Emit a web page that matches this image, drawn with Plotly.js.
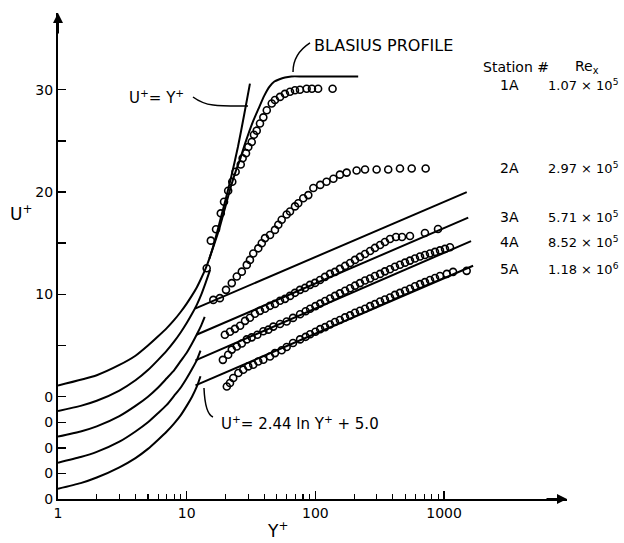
<!DOCTYPE html>
<html>
<head>
<meta charset="utf-8">
<script src="https://cdn.plot.ly/plotly-3.0.1.min.js"></script>
<style>html,body{margin:0;padding:0;background:#fff;}#chart{width:624px;height:543px;}</style>
</head>
<body>
<div id="chart"></div>
<script>
// ---------------- data ----------------
const stations = ['1A', '2A', '3A', '4A', '5A'];
const reynolds = ['1.07 × 10<sup>5</sup>', '2.97 × 10<sup>5</sup>', '5.71 × 10<sup>5</sup>', '8.52 × 10<sup>5</sup>', '1.18 × 10<sup>6</sup>'];

// measured points (open circles)
const yPlus1A = [14.3,15.4,16.9,18.4,19.5,21.0,22.6,24.0,26.3,27.2,28.9,30.1,32.0,33.3,35.0,37.1,39.4,41.9,45.8,48.5,53.1,58.0,63.5,69.4,75.9,85.5,94,105,136];
const uPlus1A = [12.56,15.25,16.36,17.92,19.05,20.13,21.0,21.98,22.7,23.3,23.8,24.4,24.9,25.6,26.0,26.7,27.3,28.0,28.65,29.0,29.3,29.6,29.8,29.95,30.0,30.1,30.1,30.1,30.1];

const yPlus2A = [16.1,18.1,20.2,22.4,24.5,26.8,29.3,31.0,32.9,36.0,38.3,40.6,44.4,48.5,51.5,54.7,59.8,63.5,69.4,73.6,80.5,88.1,96.4,109,122,138,155,175,209,243,299,368,454,560,719];
const uPlus2A = [9.46,9.63,10.44,11.1,11.74,12.22,12.88,13.37,14.0,14.5,15.0,15.5,15.8,16.3,16.8,17.3,17.8,18.1,18.6,18.9,19.4,19.7,20.4,20.7,21.0,21.3,21.7,21.9,22.1,22.2,22.2,22.2,22.3,22.3,22.3];

const yPlus3A = [19.8,21.7,23.7,26.0,28.4,31.0,33.9,37.1,40.6,44.4,48.5,53.1,58.0,63.5,69.4,75.9,83.0,90.8,99.3,108.6,118.7,129.9,142,155,170,186,203,222,243,266,290,318,347,380,423,471,543,710,897];
const uPlus3A = [6.05,6.34,6.63,6.93,7.41,7.71,8.10,8.39,8.59,8.88,9.07,9.37,9.56,9.85,10.15,10.44,10.63,10.93,11.12,11.41,11.71,12.0,12.2,12.49,12.78,13.07,13.37,13.66,13.95,14.24,14.54,14.83,15.12,15.41,15.61,15.61,15.71,16.0,16.39];

const yPlus4A = [19.1,21.0,22.4,24.5,26.8,29.3,32.0,35.4,39.4,43.1,47.1,53.1,59.8,67,76,84,91,100,109,119,130,142,155,170,186,203,222,243,266,290,318,347,380,415,454,497,543,594,650,710,777,850,929,1016,1111];
const uPlus4A = [3.6,4.1,4.6,4.9,5.2,5.6,5.8,6.05,6.4,6.55,6.85,7.1,7.35,7.7,8.05,8.35,8.6,8.85,9.1,9.35,9.6,9.85,10.1,10.35,10.6,10.85,11.1,11.35,11.55,11.8,12.0,12.25,12.45,12.7,12.9,13.1,13.3,13.5,13.7,13.85,14.0,14.15,14.3,14.45,14.6];

const yPlus5A = [20.5,21.7,23.0,25.2,27.5,30.1,32.9,36.0,39.4,44.4,48.5,54.7,59.8,67,76,84,91,100,109,119,130,142,155,170,186,203,222,243,266,290,318,347,380,415,454,497,543,594,650,710,777,850,929,1050,1174,1498];
const uPlus5A = [1.0,1.34,1.82,2.31,2.63,2.96,3.12,3.44,3.61,3.93,4.26,4.54,4.85,5.25,5.6,5.85,6.1,6.35,6.6,6.8,7.05,7.3,7.5,7.75,7.95,8.2,8.4,8.6,8.85,9.05,9.3,9.5,9.7,9.95,10.15,10.35,10.55,10.8,11.0,11.2,11.4,11.6,11.8,12.0,12.2,12.3];

// reference curves
const subYPlus1A = [1,2,3,4,5,6,7,8,9,10,11,12,13,14,15,16,17,18,20,22,25,28,31];
const subUPlus1A = [1.1,2.1,3.1,4.0,5.0,5.9,6.7,7.5,8.3,9.1,9.9,10.7,11.6,12.5,13.5,14.6,15.8,17.0,19.2,21.3,24.4,27.6,30.6];
const subYPlus2A = [1,1.5,2,3,4,5,6,7,8,9,10,11,12,13,14,15.2];
const subUPlus2A = [-1.4,-0.9,-0.4,0.6,1.6,2.6,3.6,4.5,5.4,6.3,7.2,8.1,9.0,10.0,11.1,12.4];
const subYPlus3A = [1,1.5,2,3,4,5,6,7,8,9,10,11,12,13,13.8];
const subUPlus3A = [-3.9,-3.4,-2.9,-1.9,-0.9,0.0,0.9,1.8,2.6,3.5,4.3,5.2,6.1,7.0,7.8];
const subYPlus4A = [1,1.5,2,3,4,5,6,7,8,9,10,11,12,12.8];
const subUPlus4A = [-6.45,-5.9,-5.4,-4.4,-3.4,-2.5,-1.6,-0.8,0.1,0.9,1.8,2.7,3.6,4.5];
const subYPlus5A = [1,1.5,2,3,4,5,6,7,8,9,10,11,12,12.8];
const subUPlus5A = [-9.0,-8.45,-7.9,-6.9,-6.0,-5.1,-4.2,-3.4,-2.6,-1.8,-0.9,0.0,1.0,2.0];

const blasiusYPlus = [15,18,20,22,24,26,28,30,33,36,40,44,48,52,58,65,80,120,215];
const blasiusUPlus = [13.5,16.5,18.6,20.5,22.0,23.2,24.5,25.6,27.0,28.1,29.4,30.3,30.8,31.0,31.2,31.3,31.3,31.3,31.3];

// log-law lines (end points)
const logYPlus2A = [11.6, 1500]; const logUPlus2A = [8.6, 20.0];
const logYPlus3A = [11.9, 1540]; const logUPlus3A = [6.05, 17.5];
const logYPlus4A = [11.7, 1620]; const logUPlus4A = [3.55, 15.2];
const logYPlus5A = [11.7, 1680]; const logUPlus5A = [1.1, 12.8];

// axis ticks
const xMajorVals = [1, 10, 100, 1000];
const xMajorText = ['1', '10', '100', '1000'];
const xMinorVals = [2,3,4,5,6,7,8,9,20,30,40,50,60,70,80,90,200,300,400,500,600,700,800,900];
const yTickVals = [-10, -7.5, -5, -2.5, 0, 5, 10, 15, 20, 25, 30];
const yTickText = ['0', '0', '0', '0', '0', '', '10', '', '20', '', '30'];

// ---------------- drawing ----------------
const FONT = 'DejaVu Sans, Liberation Sans, Arial, sans-serif';
const INK = '#000';

function curve(x, y, shape) {
  return {x: x, y: y, type: 'scatter', mode: 'lines', hoverinfo: 'skip',
          line: {color: INK, width: 2, shape: shape || 'spline', smoothing: 0.6}};
}
function points(x, y) {
  return {x: x, y: y, type: 'scatter', mode: 'markers', hoverinfo: 'skip',
          marker: {symbol: 'circle-open', size: 7, color: INK, line: {color: INK, width: 1.6}}};
}

const traces = [
  curve(subYPlus1A, subUPlus1A), curve(subYPlus2A, subUPlus2A), curve(subYPlus3A, subUPlus3A),
  curve(subYPlus4A, subUPlus4A), curve(subYPlus5A, subUPlus5A),
  curve(blasiusYPlus, blasiusUPlus),
  curve(logYPlus2A, logUPlus2A, 'linear'), curve(logYPlus3A, logUPlus3A, 'linear'),
  curve(logYPlus4A, logUPlus4A, 'linear'), curve(logYPlus5A, logUPlus5A, 'linear'),
  points(yPlus1A, uPlus1A), points(yPlus2A, uPlus2A), points(yPlus3A, uPlus3A),
  points(yPlus4A, uPlus4A), points(yPlus5A, uPlus5A)
];

function txt(text, x, y, size, xanchor) {
  return {text: text, x: x, y: y, xref: 'paper', yref: 'paper', showarrow: false,
          xanchor: xanchor || 'center', yanchor: 'middle',
          font: {family: FONT, size: size, color: INK}};
}

const rowY = [0.8519, 0.6811, 0.5802, 0.5288, 0.4733];
const annotations = [
  txt('BLASIUS PROFILE', 0.499, 0.934, 16, 'left'),
  txt('U<sup>+</sup>= Y<sup>+</sup>', 0.2515, 0.827, 15, 'right'),
  txt('U<sup>+</sup>= 2.44 ln Y<sup>+</sup> + 5.0', 0.3163, 0.1564, 15, 'left'),
  txt('Station #', 0.831, 0.8889, 14, 'left'),
  txt('Re<sub>x</sub>', 1.0118, 0.8889, 14, 'left'),
  txt('U<sup>+</sup>', -0.0727, 0.5885, 17, 'center'),
  txt('Y<sup>+</sup>', 0.4322, -0.0638, 17, 'center'),
  {x: 0, y: 1, xref: 'paper', yref: 'paper', ax: 0, ay: 22, text: '', showarrow: true,
   arrowhead: 2, arrowsize: 1, arrowwidth: 2, arrowcolor: INK},
  {x: 1, y: 0, xref: 'paper', yref: 'paper', ax: -22, ay: 0, text: '', showarrow: true,
   arrowhead: 2, arrowsize: 1, arrowwidth: 2, arrowcolor: INK}
];
stations.forEach(function(s, i) {
  annotations.push(txt(s, 0.888, rowY[i], 14, 'center'));
  annotations.push(txt(reynolds[i], 0.9587, rowY[i], 13, 'left'));
});

const leader = {color: INK, width: 1.5};
const shapes = [
  {type: 'path', xref: 'paper', yref: 'paper', path: 'M0.4951,0.9383 Q0.4617,0.9156 0.4617,0.8786', line: leader},
  {type: 'path', xref: 'paper', yref: 'paper', path: 'M0.2652,0.8272 C0.29,0.808 0.31,0.808 0.3733,0.8086', line: leader},
  {type: 'path', xref: 'paper', yref: 'paper', path: 'M0.2868,0.2284 Q0.289,0.175 0.3045,0.1687', line: leader}
];

const layout = {
  width: 624, height: 543,
  margin: {l: 58, r: 57, t: 13, b: 44, pad: 0},
  paper_bgcolor: '#fff', plot_bgcolor: '#fff',
  showlegend: false,
  font: {family: FONT, color: INK},
  xaxis: {
    type: 'log', range: [0, 3.955], showgrid: false, zeroline: false,
    showline: true, linecolor: INK, linewidth: 2,
    ticks: 'inside', ticklen: 8, tickwidth: 1.5, tickcolor: INK,
    tickmode: 'array', tickvals: xMajorVals, ticktext: xMajorText,
    tickfont: {family: FONT, size: 14, color: INK},
    minor: {tickmode: 'array', tickvals: xMinorVals, ticks: 'inside', ticklen: 5, tickwidth: 1.2, tickcolor: INK, showgrid: false}
  },
  yaxis: {
    range: [-10, 37.5], showgrid: false, zeroline: false,
    showline: true, linecolor: INK, linewidth: 2,
    ticks: 'inside', ticklen: 8, tickwidth: 1.5, tickcolor: INK,
    tickmode: 'array', tickvals: yTickVals, ticktext: yTickText,
    tickfont: {family: FONT, size: 14, color: INK}
  },
  annotations: annotations,
  shapes: shapes
};

Plotly.newPlot('chart', traces, layout, {staticPlot: true, displayModeBar: false});
</script>
</body>
</html>
